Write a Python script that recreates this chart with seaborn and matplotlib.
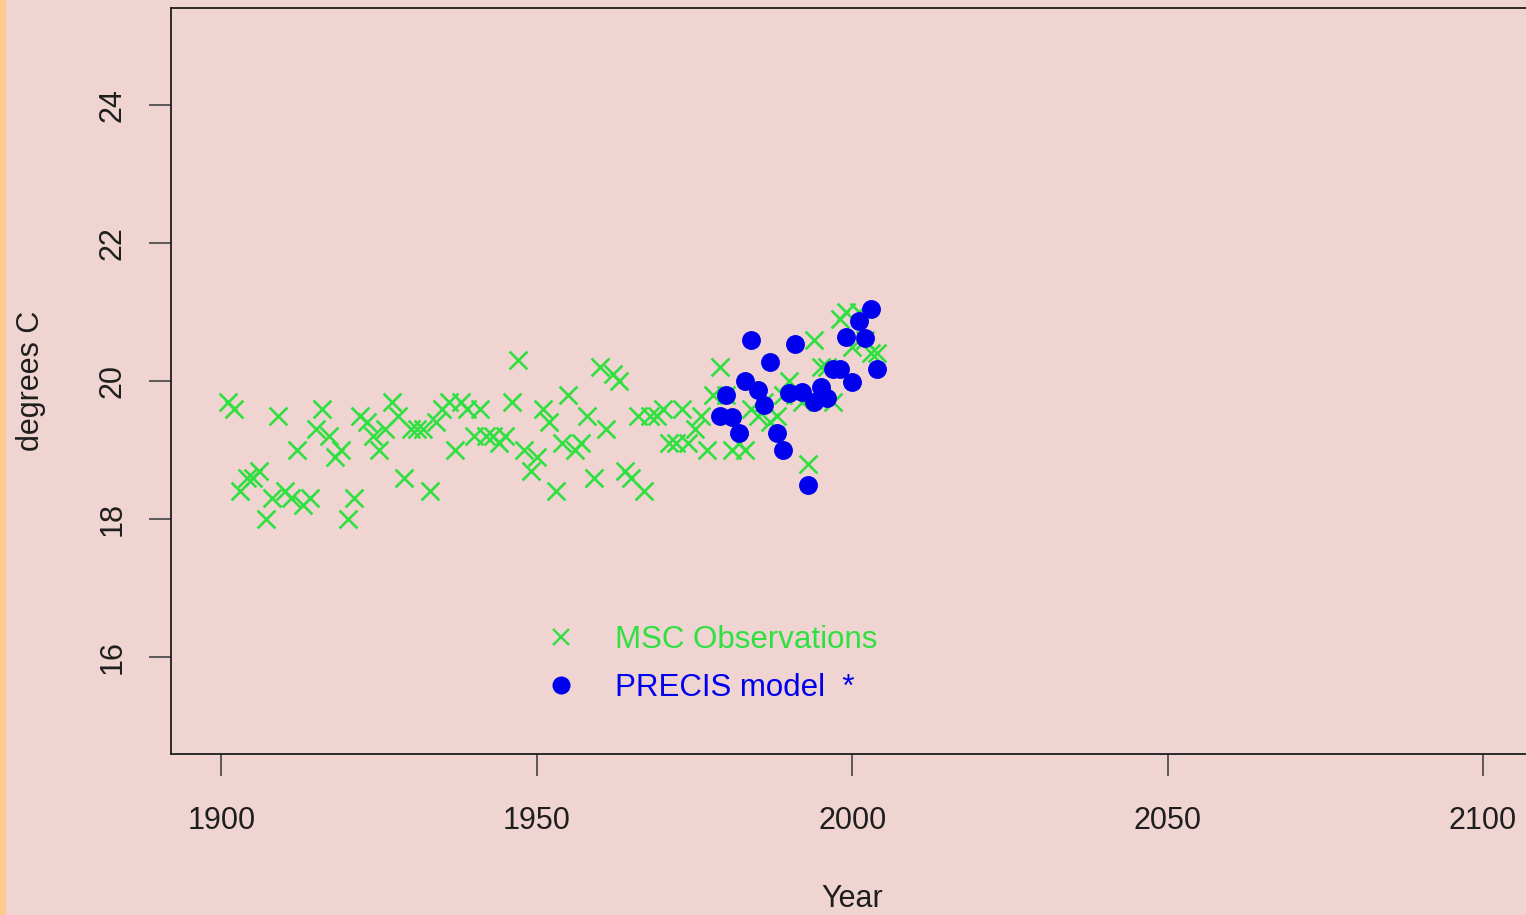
import matplotlib
matplotlib.use("Agg")
import matplotlib.pyplot as plt
from matplotlib.lines import Line2D
from matplotlib.patches import Rectangle
import pandas as pd
import seaborn as sns

# MSC station observations (annual mean, degrees C)
obs_years = list(range(1901, 2005))
obs_temps = [
    19.7, 19.6, 18.4, 18.6, 18.6, 18.7, 18.0, 18.3, 19.5, 18.4,   # 1901-1910
    18.3, 19.0, 18.2, 18.3, 19.3, 19.6, 19.2, 18.9, 19.0, 18.0,   # 1911-1920
    18.3, 19.5, 19.4, 19.2, 19.0, 19.3, 19.7, 19.5, 18.6, 19.3,   # 1921-1930
    19.3, 19.3, 18.4, 19.4, 19.6, 19.7, 19.0, 19.7, 19.6, 19.2,   # 1931-1940
    19.6, 19.2, 19.2, 19.1, 19.2, 19.7, 20.3, 19.0, 18.7, 18.9,   # 1941-1950
    19.6, 19.4, 18.4, 19.1, 19.8, 19.0, 19.1, 19.5, 18.6, 20.2,   # 1951-1960
    19.3, 20.1, 20.0, 18.7, 18.6, 19.5, 18.4, 19.5, 19.5, 19.6,   # 1961-1970
    19.1, 19.1, 19.6, 19.1, 19.3, 19.5, 19.0, 19.8, 20.2, 19.8,   # 1971-1980
    19.0, 19.1, 19.0, 19.6, 19.5, 19.7, 19.4, 19.5, 19.8, 20.0,   # 1981-1990
    19.8, 19.7, 18.8, 20.6, 20.2, 20.2, 19.7, 20.9, 21.0, 20.5,   # 1991-2000
    21.0, 20.6, 20.4, 20.4,                                       # 2001-2004
]

# PRECIS regional model output
model_years = list(range(1979, 2005))
model_temps = [
    19.5, 19.8, 19.48, 19.25, 20.0, 20.6, 19.87, 19.65, 20.27, 19.25,
    19.0, 19.82, 20.54, 19.84, 18.49, 19.7, 19.92, 19.75, 20.18, 20.18,
    20.64, 19.98, 20.87, 20.62, 21.04, 20.18,
]

x_ticks = [1900, 1950, 2000, 2050, 2100]
y_ticks = [16, 18, 20, 22, 24]

BG = "#EFD4D1"
GREEN = "#30E040"
BLUE = "#0000EE"
INK = "#1E1E1E"

obs = pd.DataFrame({"year": obs_years, "temp": obs_temps})
model = pd.DataFrame({"year": model_years, "temp": model_temps})

sns.set_theme(style="ticks", rc={"axes.facecolor": BG, "figure.facecolor": BG})
plt.rcParams["font.family"] = ["Liberation Sans", "DejaVu Sans"]

fig = plt.figure(figsize=(15.26, 9.15), dpi=100)
# thin orange strip on the left edge of the slide
fig.patches.append(Rectangle((0, 0), 5 / 1526, 1, transform=fig.transFigure,
                             color="#FFC98F", zorder=0))

# axes run off the right edge of the image, like the original
ax = fig.add_axes([171 / 1526, 0.1764, 1362.5 / 1526, 0.8144])

sns.scatterplot(data=obs, x="year", y="temp", marker="x", color=GREEN,
                s=165, linewidth=1.9, ax=ax, zorder=2)
sns.scatterplot(data=model, x="year", y="temp", marker="o", color=BLUE,
                s=185, linewidth=0, ax=ax, zorder=3)

ax.set_xlim(1892, 2108)
ax.set_ylim(14.6, 25.4)
ax.set_xticks(x_ticks)
ax.set_yticks(y_ticks)
ax.set_xticklabels([str(t) for t in x_ticks])
ax.set_yticklabels([str(t) for t in y_ticks])

for side in ["left", "top", "bottom", "right"]:
    ax.spines[side].set_visible(True)
    ax.spines[side].set_color(INK)
    ax.spines[side].set_linewidth(1.3)

ax.tick_params(axis="both", which="major", direction="out", length=15.5,
               width=1.2, color="#444444", labelsize=22, labelcolor=INK,
               bottom=True, left=True, top=False, right=False)
ax.tick_params(axis="x", pad=22)
ax.tick_params(axis="y", pad=16, labelrotation=90)
for lab in ax.get_yticklabels():
    lab.set_verticalalignment("center")

ax.set_xlabel("Year", fontsize=22, color=INK)
ax.set_ylabel("degrees C", fontsize=22, color=INK)
ax.xaxis.set_label_coords(0.5, -0.175)
ax.yaxis.set_label_coords(-0.0917, 0.5)

handles = [
    Line2D([], [], linestyle="none", marker="x", color=GREEN,
           markersize=12, markeredgewidth=1.7),
    Line2D([], [], linestyle="none", marker="o", color=BLUE,
           markersize=13, markeredgewidth=0),
]
leg = ax.legend(handles, ["MSC Observations", "PRECIS model  *"],
                loc="center left", bbox_to_anchor=(0.2745, 0.1203),
                frameon=False, fontsize=22.5, borderpad=0, borderaxespad=0,
                handlelength=1.0, handletextpad=1.25, labelspacing=0.6)
leg.get_texts()[0].set_color(GREEN)
leg.get_texts()[1].set_color(BLUE)

fig.savefig("out.png", dpi=100, facecolor=BG)
